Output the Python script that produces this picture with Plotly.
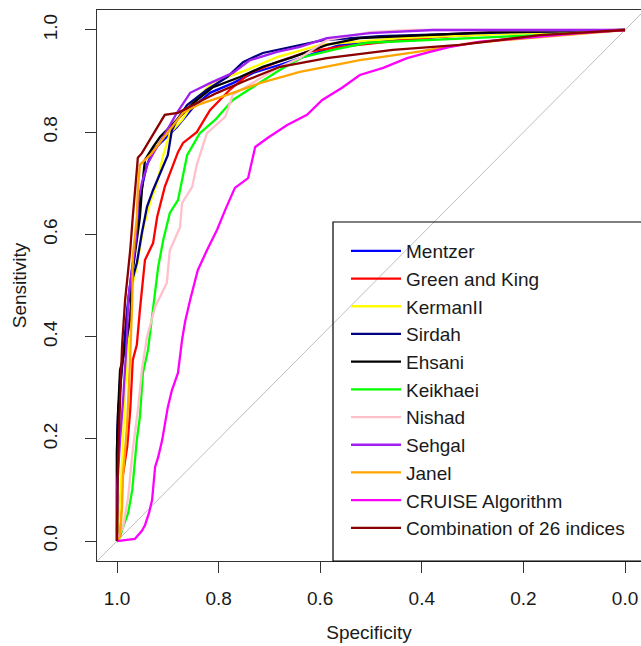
import plotly.graph_objects as go

# ---- data (specificity, sensitivity) ----
names = ["Mentzer", "Green and King", "KermanII", "Sirdah", "Ehsani", "Keikhaei",
         "Nishad", "Sehgal", "Janel", "CRUISE Algorithm", "Combination of 26 indices"]
colors = ["#0000FF", "#FF0000", "#FFFF00", "#000080", "#000000", "#00FF00",
          "#FFC0CB", "#A020F0", "#FFA500", "#FF00FF", "#8B0000"]

mentzer_spec = [1.0, 1.0, 0.998, 0.994, 0.984, 0.978, 0.970, 0.961, 0.955, 0.949, 0.941, 0.929, 0.882, 0.850, 0.817, 0.772, 0.732, 0.679, 0.561, 0.457, 0.325, 0.167, 0.0]
mentzer_sens = [0.0, 0.172, 0.231, 0.315, 0.393, 0.472, 0.536, 0.603, 0.667, 0.701, 0.736, 0.765, 0.810, 0.849, 0.877, 0.896, 0.916, 0.932, 0.971, 0.980, 0.990, 0.996, 1.0]

green_king_spec = [1.0, 0.998, 0.994, 0.990, 0.980, 0.974, 0.969, 0.961, 0.955, 0.945, 0.929, 0.921, 0.906, 0.896, 0.880, 0.870, 0.843, 0.817, 0.778, 0.738, 0.685, 0.626, 0.561, 0.469, 0.378, 0.232, 0.0]
green_king_sens = [0.0, 0.008, 0.067, 0.119, 0.184, 0.256, 0.354, 0.384, 0.452, 0.550, 0.583, 0.634, 0.693, 0.720, 0.761, 0.779, 0.800, 0.843, 0.883, 0.916, 0.937, 0.957, 0.967, 0.977, 0.986, 0.994, 1.0]

kerman_spec = [1.0, 0.998, 0.994, 0.988, 0.984, 0.978, 0.969, 0.961, 0.949, 0.935, 0.921, 0.909, 0.896, 0.872, 0.846, 0.811, 0.744, 0.685, 0.600, 0.443, 0.246, 0.0]
kerman_sens = [0.0, 0.016, 0.067, 0.198, 0.295, 0.384, 0.505, 0.536, 0.609, 0.661, 0.701, 0.755, 0.798, 0.824, 0.863, 0.898, 0.922, 0.947, 0.971, 0.984, 0.992, 1.0]

sirdah_spec = [1.0, 1.0, 0.998, 0.990, 0.980, 0.970, 0.961, 0.951, 0.941, 0.929, 0.915, 0.900, 0.892, 0.882, 0.862, 0.823, 0.783, 0.752, 0.713, 0.659, 0.594, 0.482, 0.285, 0.0]
sirdah_sens = [0.0, 0.178, 0.250, 0.335, 0.452, 0.511, 0.544, 0.603, 0.654, 0.687, 0.720, 0.755, 0.804, 0.824, 0.853, 0.883, 0.908, 0.937, 0.955, 0.967, 0.980, 0.988, 0.994, 1.0]

ehsani_spec = [1.0, 1.0, 0.998, 0.994, 0.984, 0.974, 0.969, 0.959, 0.955, 0.951, 0.945, 0.929, 0.915, 0.882, 0.850, 0.811, 0.758, 0.713, 0.654, 0.587, 0.522, 0.390, 0.266, 0.0]
ehsani_sens = [0.0, 0.184, 0.250, 0.335, 0.374, 0.438, 0.530, 0.603, 0.634, 0.687, 0.746, 0.771, 0.791, 0.824, 0.857, 0.888, 0.908, 0.928, 0.947, 0.971, 0.984, 0.990, 0.996, 1.0]

keikhaei_spec = [1.0, 0.994, 0.990, 0.978, 0.970, 0.961, 0.955, 0.949, 0.939, 0.929, 0.919, 0.909, 0.896, 0.880, 0.862, 0.837, 0.807, 0.772, 0.732, 0.679, 0.634, 0.575, 0.508, 0.404, 0.299, 0.167, 0.0]
keikhaei_sens = [0.0, 0.008, 0.022, 0.055, 0.100, 0.198, 0.243, 0.329, 0.374, 0.458, 0.536, 0.589, 0.642, 0.667, 0.755, 0.798, 0.824, 0.863, 0.888, 0.922, 0.947, 0.961, 0.975, 0.980, 0.984, 0.990, 1.0]

nishad_spec = [1.0, 0.998, 0.988, 0.978, 0.969, 0.959, 0.951, 0.941, 0.925, 0.902, 0.896, 0.876, 0.872, 0.852, 0.843, 0.823, 0.787, 0.772, 0.724, 0.679, 0.640, 0.587, 0.502, 0.423, 0.0]
nishad_sens = [0.0, 0.008, 0.027, 0.086, 0.178, 0.256, 0.335, 0.399, 0.458, 0.505, 0.569, 0.614, 0.661, 0.693, 0.736, 0.798, 0.830, 0.873, 0.902, 0.928, 0.945, 0.980, 0.996, 1.0, 1.0]

sehgal_spec = [1.0, 1.0, 1.0, 0.994, 0.988, 0.980, 0.978, 0.970, 0.965, 0.961, 0.959, 0.951, 0.939, 0.925, 0.909, 0.882, 0.856, 0.817, 0.772, 0.738, 0.685, 0.640, 0.587, 0.502, 0.378, 0.0]
sehgal_sens = [0.0, 0.041, 0.100, 0.198, 0.276, 0.407, 0.472, 0.536, 0.569, 0.614, 0.661, 0.701, 0.740, 0.765, 0.791, 0.838, 0.877, 0.896, 0.916, 0.941, 0.957, 0.967, 0.984, 0.994, 1.0, 1.0]

janel_spec = [1.0, 0.994, 0.990, 0.988, 0.984, 0.980, 0.974, 0.970, 0.969, 0.965, 0.961, 0.959, 0.955, 0.935, 0.902, 0.870, 0.837, 0.783, 0.719, 0.640, 0.522, 0.409, 0.299, 0.167, 0.0]
janel_sens = [0.0, 0.008, 0.067, 0.133, 0.178, 0.231, 0.360, 0.472, 0.556, 0.595, 0.634, 0.687, 0.736, 0.755, 0.798, 0.838, 0.855, 0.873, 0.896, 0.918, 0.941, 0.957, 0.975, 0.986, 1.0]

cruise_spec = [1.0, 0.965, 0.951, 0.945, 0.937, 0.931, 0.925, 0.919, 0.911, 0.900, 0.892, 0.880, 0.872, 0.866, 0.856, 0.841, 0.823, 0.803, 0.787, 0.768, 0.742, 0.728, 0.703, 0.665, 0.626, 0.596, 0.557, 0.522, 0.476, 0.429, 0.384, 0.344, 0.285, 0.187, 0.089, 0.0]
cruise_sens = [0.0, 0.004, 0.020, 0.031, 0.055, 0.080, 0.145, 0.164, 0.198, 0.262, 0.295, 0.329, 0.393, 0.429, 0.472, 0.530, 0.569, 0.609, 0.648, 0.691, 0.710, 0.771, 0.789, 0.814, 0.834, 0.863, 0.887, 0.912, 0.926, 0.945, 0.957, 0.967, 0.977, 0.986, 0.994, 1.0]

combo_spec = [1.0, 1.0, 0.998, 0.990, 0.984, 0.974, 0.969, 0.965, 0.961, 0.959, 0.951, 0.906, 0.880, 0.843, 0.803, 0.744, 0.679, 0.587, 0.457, 0.325, 0.167, 0.0]
combo_sens = [0.0, 0.031, 0.164, 0.384, 0.472, 0.569, 0.634, 0.673, 0.726, 0.750, 0.759, 0.834, 0.838, 0.857, 0.877, 0.902, 0.928, 0.945, 0.961, 0.971, 0.990, 1.0]

specs = [mentzer_spec, green_king_spec, kerman_spec, sirdah_spec, ehsani_spec, keikhaei_spec,
         nishad_spec, sehgal_spec, janel_spec, cruise_spec, combo_spec]
senss = [mentzer_sens, green_king_sens, kerman_sens, sirdah_sens, ehsani_sens, keikhaei_sens,
         nishad_sens, sehgal_sens, janel_sens, cruise_sens, combo_sens]

tick_vals = [1.0, 0.8, 0.6, 0.4, 0.2, 0.0]
tick_text = ["1.0", "0.8", "0.6", "0.4", "0.2", "0.0"]

FONT = "Liberation Sans, Arial, sans-serif"

L, T, W, H = 97, 10, 641, 646
PLOT_W = W - L
PLOT_H = 551
B = H - T - PLOT_H
PX_PER_UNIT_X = 508.0
X_LEFT = 1.0394
X_RIGHT = X_LEFT - PLOT_W / PX_PER_UNIT_X

fig = go.Figure()
for nm, col, sx, sy in zip(names, colors, specs, senss):
    fig.add_trace(go.Scatter(x=sx, y=sy, mode="lines", name=nm,
                             line=dict(color=col, width=2.3)))

# chance diagonal
fig.add_shape(type="line", xref="x", yref="y", x0=1.2, y0=-0.2, x1=-0.2, y1=1.2,
              line=dict(color="#BEBEBE", width=1), layer="below")

# legend frame (right part runs off the page like the reference)
leg_left = (333 - L) / PLOT_W
leg_top = (561 - 222) / PLOT_H
fig.add_shape(type="rect", xref="paper", yref="paper",
              x0=leg_left, x1=1.3, y0=0.0, y1=leg_top,
              line=dict(color="#000000", width=1.2), fillcolor="rgba(0,0,0,0)")

fig.update_layout(
    width=W, height=H,
    margin=dict(l=L, r=0, t=T, b=B, autoexpand=False),
    paper_bgcolor="white", plot_bgcolor="white",
    font=dict(family=FONT, size=19, color="#1a1a1a"),
    showlegend=True,
    legend=dict(x=(346 - L) / PLOT_W, y=(561 - 232) / PLOT_H, xanchor="left", yanchor="top",
                bgcolor="rgba(0,0,0,0)", borderwidth=0,
                font=dict(family=FONT, size=19, color="#1a1a1a"),
                itemwidth=50, tracegroupgap=0),
    xaxis=dict(range=[X_LEFT, X_RIGHT], tickvals=tick_vals, ticktext=tick_text,
               showgrid=False, zeroline=False, showline=True, mirror=True,
               linecolor="#333333", linewidth=1.2, ticks="outside", ticklen=11,
               tickcolor="#333333", tickwidth=1.2, ticklabelstandoff=9,
               title=dict(text="Specificity", font=dict(size=19), standoff=17)),
    yaxis=dict(range=[-0.0391, 1.0391], tickvals=tick_vals, ticktext=tick_text,
               showgrid=False, zeroline=False, showline=True, mirror=False,
               linecolor="#333333", linewidth=1.2, ticks="outside", ticklen=11,
               tickcolor="#333333", tickwidth=1.2, tickangle=-90, ticklabelstandoff=20,
               title=dict(text="Sensitivity", font=dict(size=19), standoff=8)),
)

# the page itself has no margin and no scrollbars, so the figure fills the window
fig.write_html("out.html",
               config={"displayModeBar": False},
               post_script="document.body.style.margin='0';"
                           "document.documentElement.style.overflow='hidden';"
                           "document.body.style.overflow='hidden';")
